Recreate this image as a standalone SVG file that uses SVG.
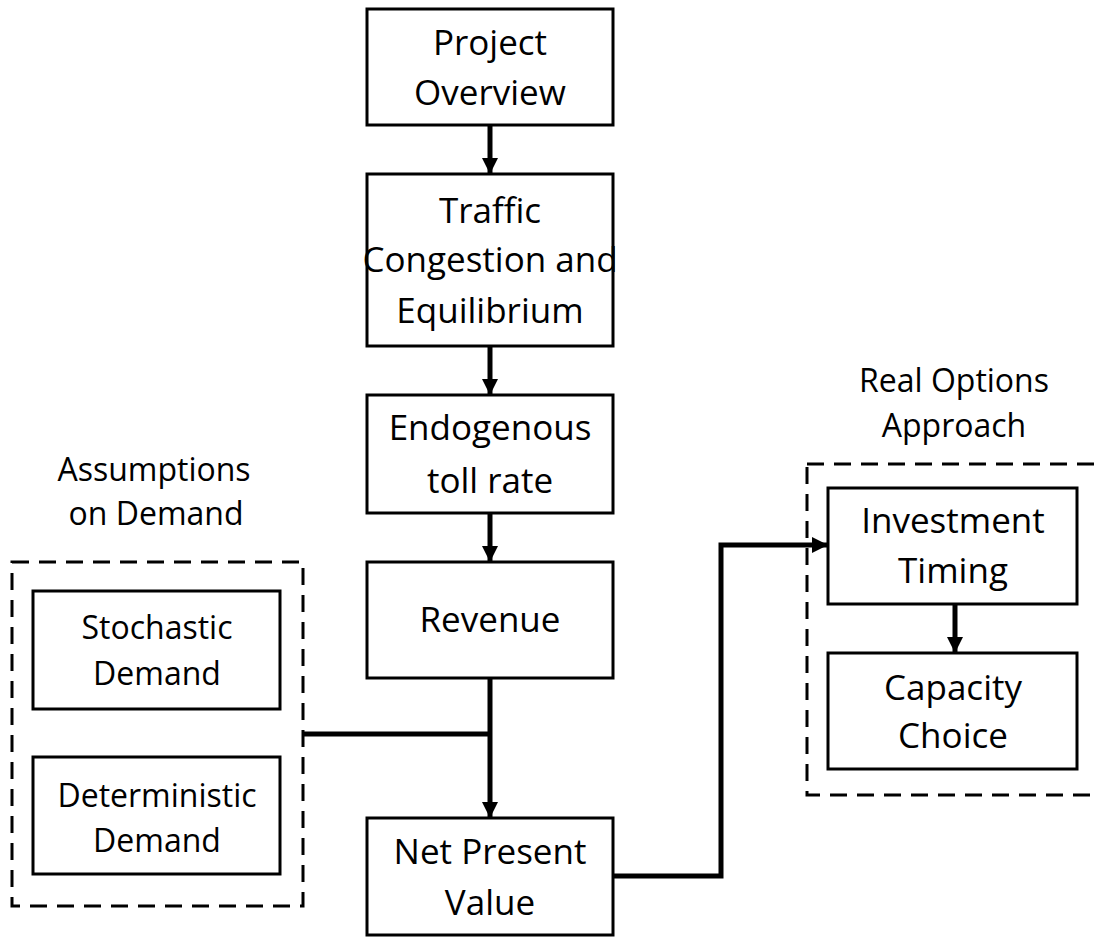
<svg xmlns="http://www.w3.org/2000/svg" width="1094" height="937" viewBox="0 0 1094 937">
<style>
.box{fill:#fff;stroke:#000;stroke-width:3}
.grp{fill:none;stroke:#000;stroke-width:3;stroke-dasharray:17 10}
.t{font-family:"Open Sans","Liberation Sans",sans-serif;font-size:35px;fill:#000;text-anchor:middle}
.s{font-family:"Open Sans","Liberation Sans",sans-serif;font-size:32px;fill:#000;text-anchor:middle}
.c{fill:none;stroke:#000;stroke-width:5}
</style>
<defs>
<marker id="ah" markerUnits="userSpaceOnUse" markerWidth="16" markerHeight="16" viewBox="0 0 16 16" refX="15" refY="8" orient="auto">
<path d="M0,0 L16,8 L0,16 Z" fill="#000"/>
</marker>
</defs>
<rect width="1094" height="937" fill="#fff"/>
<g id="group-assumptions">
<rect class="grp" x="12" y="562" width="291" height="344"/>
<text class="s" x="154" y="481">Assumptions</text>
<text class="s" x="156" y="525">on Demand</text>
</g>
<g id="group-realoptions">
<rect class="grp" x="807" y="464" width="300" height="331"/>
<text class="s" x="954" y="392">Real Options</text>
<text class="s" x="954" y="437">Approach</text>
</g>
<g id="connectors">
<path class="c" d="M490,125 V173" marker-end="url(#ah)"/>
<path class="c" d="M490,346 V394" marker-end="url(#ah)"/>
<path class="c" d="M490,513 V561" marker-end="url(#ah)"/>
<path class="c" d="M490,678 V817" marker-end="url(#ah)"/>
<path class="c" d="M303,734 H490"/>
<path class="c" d="M613,876 H721 V545 H827" marker-end="url(#ah)"/>
<path class="c" d="M955,604 V652" marker-end="url(#ah)"/>
</g>
<g id="node-project-overview">
<rect class="box" x="367" y="9" width="246" height="116"/>
<text class="t" x="490" y="55">Project</text>
<text class="t" x="490" y="105">Overview</text>
</g>
<g id="node-traffic">
<rect class="box" x="367" y="174" width="246" height="172"/>
<text class="t" x="490" y="223">Traffic</text>
<text class="t" x="490" y="272">Congestion and</text>
<text class="t" x="490" y="323">Equilibrium</text>
</g>
<g id="node-endogenous">
<rect class="box" x="367" y="395" width="246" height="118"/>
<text class="t" x="490" y="440">Endogenous</text>
<text class="t" x="490" y="493">toll rate</text>
</g>
<g id="node-revenue">
<rect class="box" x="367" y="562" width="246" height="116"/>
<text class="t" x="490" y="632">Revenue</text>
</g>
<g id="node-npv">
<rect class="box" x="367" y="818" width="246" height="117"/>
<text class="t" x="490" y="864">Net Present</text>
<text class="t" x="490" y="915">Value</text>
</g>
<g id="node-stochastic">
<rect class="box" x="33" y="591" width="247" height="118"/>
<text class="s" x="157" y="639">Stochastic</text>
<text class="s" x="157" y="685">Demand</text>
</g>
<g id="node-deterministic">
<rect class="box" x="33" y="757" width="247" height="117"/>
<text class="s" x="157" y="807">Deterministic</text>
<text class="s" x="157" y="852">Demand</text>
</g>
<g id="node-investment">
<rect class="box" x="828" y="488" width="249" height="116"/>
<text class="t" x="953" y="533">Investment</text>
<text class="t" x="953" y="583">Timing</text>
</g>
<g id="node-capacity">
<rect class="box" x="828" y="653" width="249" height="116"/>
<text class="t" x="953" y="700">Capacity</text>
<text class="t" x="953" y="748">Choice</text>
</g>
</svg>
